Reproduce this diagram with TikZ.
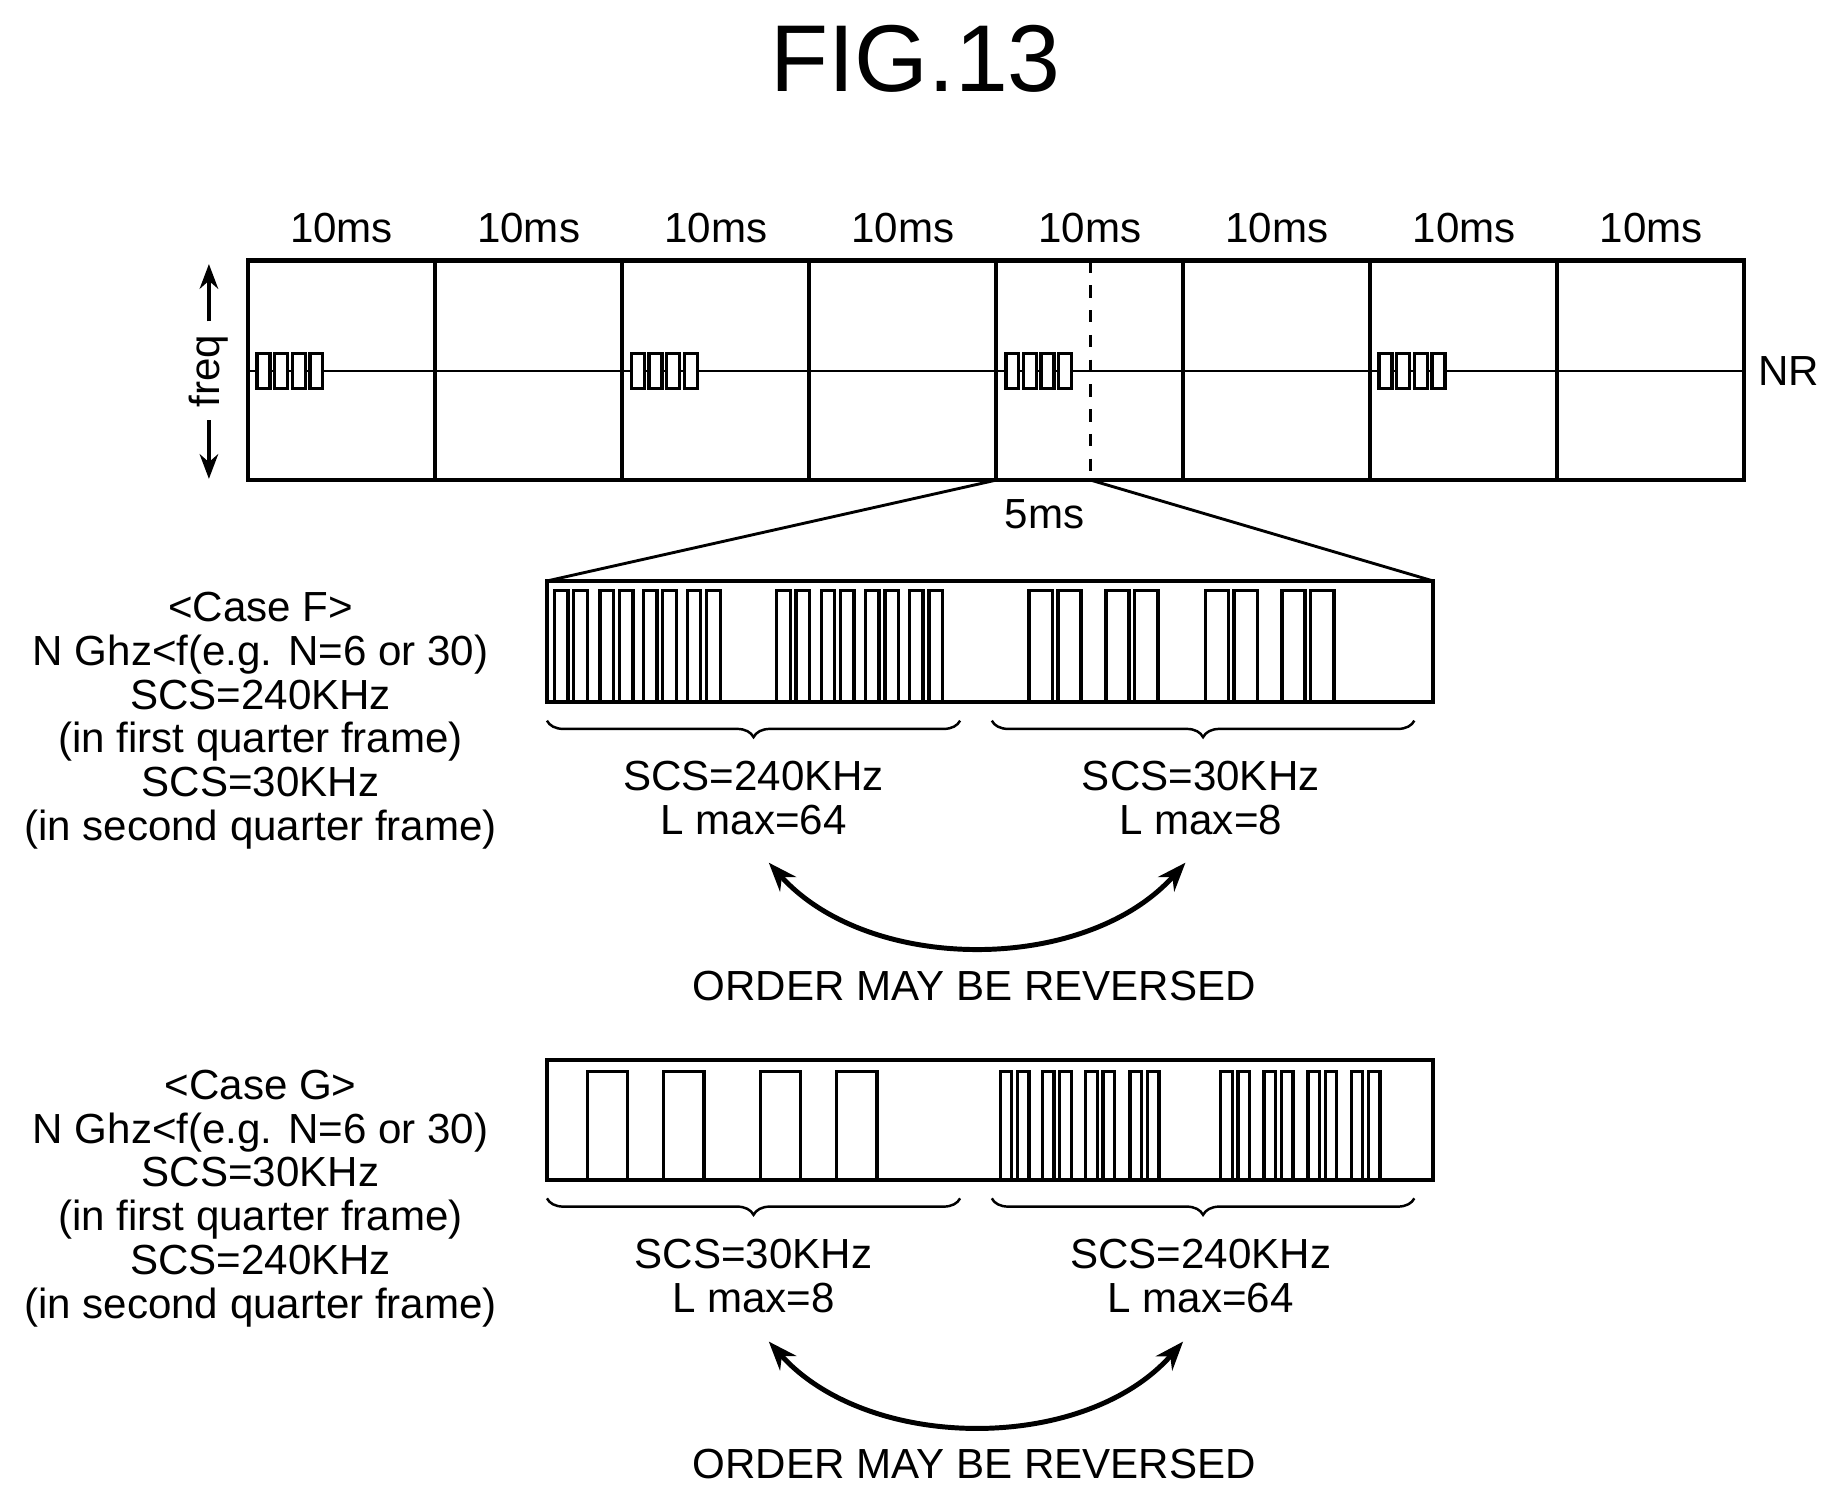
\documentclass[tikz,border=0pt]{standalone}
\usepackage{fontspec}
\setmainfont{Liberation Sans}
\usetikzlibrary{decorations.pathreplacing,arrows.meta}
\tikzset{
  txt/.style={font=\fontsize{10.2}{10.6}\selectfont, align=center, inner sep=0pt},
  frm/.style={line width=1pt},
  pulse/.style={line width=0.8pt},
  brc/.style={decorate, decoration={brace, mirror, amplitude=4pt}, line width=0.6pt},
  swap/.style={{Stealth[length=7pt]}-{Stealth[length=7pt]}, line width=1.2pt}
}
\begin{document}
\begin{tikzpicture}[x=0.01cm, y=-0.01cm]
  \useasboundingbox (0,0) rectangle (1560,1271);
  \node[font=\fontsize{23}{26}\selectfont] (fig) at (780,50) {FIG.13};
  % top frames
  \draw[line width=0.5pt] (211,316) -- (1486,316);
  \draw[frm] (211,222) rectangle (1486,409);
  \foreach \i in {0,...,7} {
    \node[txt] (ms\i) at ({291+159.4*\i},194) {10ms};
  }
  \foreach \i in {1,...,7} {
    \draw[frm] ({211+159.4*\i},222) -- ({211+159.4*\i},409);
  }
  \draw[dashed, line width=0.7pt] (929,222) -- (929,409);
  \foreach \s in {219,538,857,1175} {
    \foreach \k in {0,...,3} {
      \draw[pulse, fill=white] ({\s+\k*15},301) rectangle ({\s+\k*15+11},331);
    }
  }
  \node[txt] (nr) at (1524,316) {NR};
  \node[txt, rotate=90, inner xsep=3pt] (freq) at (178,316) {freq};
  \draw[-{Stealth[length=6pt]}, line width=0.8pt] (freq.east) -- (178,225);
  \draw[-{Stealth[length=6pt]}, line width=0.8pt] (freq.west) -- (178,408);
  \node[txt] (five) at (890,438) {5ms};
  \draw[line width=0.7pt] (849,409) -- (466,495);
  \draw[line width=0.7pt] (929,409) -- (1221,495);
  % case F
  \draw[frm] (466,495) rectangle (1221,598);
  \foreach \s in {472.4,511.3,548.2,585.6,661.8,699.7,737.5,775.0} {
    \draw[pulse] (\s,598) |- ({\s+11.5},503) -- ({\s+11.5},598);
    \draw[pulse] ({\s+16.5},598) |- ({\s+28},503) -- ({\s+28},598);
  }
  \foreach \s in {876.8,942.2,1026.8,1092.2} {
    \draw[pulse] (\s,598) |- ({\s+19.7},503) -- ({\s+19.7},598);
    \draw[pulse] ({\s+24.6},598) |- ({\s+44.3},503) -- ({\s+44.3},598);
  }
  \draw[brc] (466,614) -- (818,614);
  \draw[brc] (845,614) -- (1205,614);
  \node[txt] (f1) at (642,680) {SCS=240KHz\\L max=64};
  \node[txt] (f2) at (1023,680) {SCS=30KHz\\L max=8};
  \node[txt] (caseF) at (222,614) {<Case F>\\N Ghz<f(e.g. N=6 or 30)\\SCS=240KHz\\(in first quarter frame)\\SCS=30KHz\\(in second quarter frame)};
  \coordinate (fa) at (655,735);
  \coordinate (fb) at (1010,735);
  \draw[swap] (fa) .. controls (740,830) and (925,830) .. (fb);
  \node[txt] (ordF) at (830,840) {ORDER MAY BE REVERSED};
  % case G
  \draw[frm] (466,903) rectangle (1221,1005);
  \foreach \s in {500.4,565.3,647.9,712.9} {
    \draw[pulse] (\s,1005) |- ({\s+34.4},913) -- ({\s+34.4},1005);
  }
  \foreach \s in {852.2,888.1,925,962.8,1040,1076.9,1114.3,1151.2} {
    \draw[pulse] (\s,1005) |- ({\s+9.8},913) -- ({\s+9.8},1005);
    \draw[pulse] ({\s+14.8},1005) |- ({\s+24.6},913) -- ({\s+24.6},1005);
  }
  \draw[brc] (466,1021) -- (818,1021);
  \draw[brc] (845,1021) -- (1205,1021);
  \node[txt] (g1) at (642,1087) {SCS=30KHz\\L max=8};
  \node[txt] (g2) at (1023,1087) {SCS=240KHz\\L max=64};
  \node[txt] (caseG) at (222,1021) {<Case G>\\N Ghz<f(e.g. N=6 or 30)\\SCS=30KHz\\(in first quarter frame)\\SCS=240KHz\\(in second quarter frame)};
  \coordinate (ga) at (655,1143);
  \coordinate (gb) at (1008,1143);
  \draw[swap] (ga) .. controls (740,1238) and (925,1238) .. (gb);
  \node[txt] (ordG) at (830,1247) {ORDER MAY BE REVERSED};
\end{tikzpicture}
\end{document}
